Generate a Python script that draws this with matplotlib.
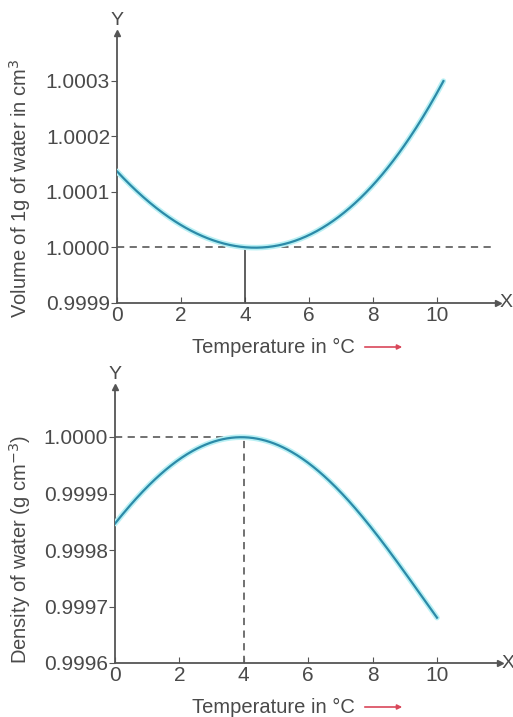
import matplotlib
matplotlib.use("Agg")
import matplotlib.pyplot as plt
import numpy as np

plt.rcParams['font.family'] = ['Liberation Sans', 'DejaVu Sans']

# readings from the picture
temp_vol = [0, 1, 2, 3, 4, 5, 6, 7, 8, 9, 10.2]
volume = [1.000137, 1.000088, 1.000043, 1.000014, 1.000000, 1.000010,
          1.000029, 1.000062, 1.000111, 1.000179, 1.000300]
vol_ticks = [0.9999, 1.0000, 1.0001, 1.0002, 1.0003]

temp_den = [0, 1, 2, 3, 4, 5, 6, 7, 8, 9, 10]
density = [0.999847, 0.999905, 0.999959, 0.999990, 1.000000, 0.999982,
           0.999947, 0.999899, 0.999839, 0.999767, 0.999680]
den_ticks = [0.9996, 0.9997, 0.9998, 0.9999, 1.0000]

x_ticks = [0, 2, 4, 6, 8, 10]

W, H = 513, 717
AXC = '#555555'
TXT = '#4a4a4a'


def make_axes(fig, left_px, right_px, top_px, bottom_px):
    return fig.add_axes([left_px / W, 1 - bottom_px / H,
                         (right_px - left_px) / W, (bottom_px - top_px) / H])


def style(ax, ticks, labels):
    for s in ['top', 'right']:
        ax.spines[s].set_visible(False)
    for s in ['left', 'bottom']:
        ax.spines[s].set_color(AXC)
        ax.spines[s].set_linewidth(1.3)
    ax.set_xticks(x_ticks)
    ax.set_yticks(ticks)
    ax.set_yticklabels(labels)
    ax.tick_params(axis='y', direction='out', length=4, color=AXC,
                   labelsize=15, labelcolor=TXT, pad=1)
    ax.tick_params(axis='x', direction='in', length=4, color=AXC,
                   labelsize=15, labelcolor=TXT, pad=2)
    # arrow heads on the axes
    ax.plot(1, 0, '>', color=AXC, ms=4, transform=ax.transAxes, clip_on=False)
    ax.plot(0, 1, '^', color=AXC, ms=4, transform=ax.transAxes, clip_on=False)
    ax.text(1.003, 0, 'X', transform=ax.transAxes, fontsize=14, color=TXT,
            ha='left', va='center')
    ax.text(0, 1.015, 'Y', transform=ax.transAxes, fontsize=14, color=TXT,
            ha='center', va='bottom')


def curve(ax, xs, ys):
    # smooth polynomial through the read points, pinned at 4 degC and the ends
    x = np.asarray(xs, float)
    y = np.asarray(ys, float)
    off = y[0]
    w = np.ones_like(x)
    w[x == 4] = 6
    w[0] = w[-1] = 4
    c = np.polyfit(x, y - off, 4, w=w)
    xx = np.linspace(x[0], x[-1], 300)
    yy = np.polyval(c, xx) + off
    ax.plot(xx, yy, color='#b8f0f4', lw=4.0, solid_capstyle='round', zorder=3)
    ax.plot(xx, yy, color='#2b8aa8', lw=1.6, zorder=4)


def xlabel(fig, y_px):
    fig.text(192 / W, 1 - y_px / H, 'Temperature in °C', fontsize=14.5,
             color=TXT, ha='left', va='center')
    fig.add_artist(matplotlib.patches.FancyArrowPatch(
        (362 / W, 1 - y_px / H), (405 / W, 1 - y_px / H),
        transform=fig.transFigure, arrowstyle='-|>', mutation_scale=7,
        color='#d9475a', lw=1.2))


fig = plt.figure(figsize=(W / 100, H / 100), dpi=100)

# top panel: volume
ax1 = make_axes(fig, 117, 498, 33, 303)
ax1.set_xlim(0, (498 - 117) / 32.0)
ax1.set_ylim(0.9999, 1.0003 + (81 - 33) / 55.5 * 0.0001)
style(ax1, vol_ticks, ['%.4f' % v for v in vol_ticks])
curve(ax1, temp_vol, volume)
ax1.axhline(1.0, xmax=(492 - 117) / (498 - 117), color='#666666', lw=1.3,
            ls=(0, (4, 3)), zorder=2)
ax1.plot([4, 4], [0.9999, 1.0], color='#444444', lw=1.2, zorder=2)
ax1.set_ylabel('Volume of 1g of water in cm$^3$', fontsize=14.5, color=TXT)
ax1.yaxis.set_label_coords(-84 / 381, (303 - 188) / 270)
xlabel(fig, 347)

# bottom panel: density
ax2 = make_axes(fig, 115, 500, 387, 663)
ax2.set_xlim(0, (500 - 115) / 32.2)
ax2.set_ylim(0.9996, 1.0 + (437 - 387) / 56.5 * 0.0001)
style(ax2, den_ticks, ['%.4f' % v for v in den_ticks])
curve(ax2, temp_den, density)
ax2.plot([0, 4], [1.0, 1.0], color='#666666', lw=1.3, ls=(0, (4, 3)), zorder=2)
ax2.plot([4, 4], [0.9996, 1.0], color='#666666', lw=1.3, ls=(0, (4, 3)),
         zorder=2)
ax2.set_ylabel('Density of water (g cm$^{-3}$)', fontsize=14.5, color=TXT)
ax2.yaxis.set_label_coords(-82 / 385, (663 - 549) / 276)
xlabel(fig, 707)

fig.savefig('out.png', dpi=100)
